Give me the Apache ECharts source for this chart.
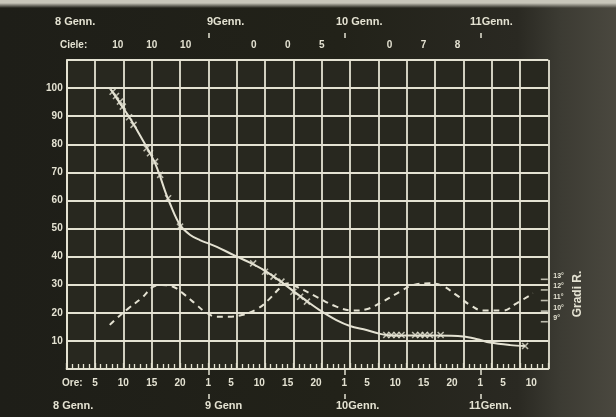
<!DOCTYPE html>
<html><head><meta charset="utf-8">
<script src="https://cdn.jsdelivr.net/npm/echarts@6/dist/echarts.min.js"></script>
<style>
html,body{margin:0;padding:0;background:#1f1f19;}
#wrap{position:relative;width:616px;height:417px;overflow:hidden;background:
 linear-gradient(to bottom, rgba(200,198,186,1) 0px, rgba(200,198,186,1) 3px, rgba(200,198,186,0) 8px),
 linear-gradient(to right, #1e1e18 0%, #222219 55%, #2a2922 84%, #3c3b33 91%, #4a483f 100%);}
#chart{position:absolute;left:0;top:0;width:616px;height:417px;}
</style></head><body><div id="wrap"><div id="chart"></div></div>
<script>
// ---- data (hours counted from 8 Genn. 0h) ----
const solidHours  = [7.8, 9.4, 11.2, 12.9, 14.4, 15.6, 16.5, 17.3, 18.2, 20.0, 21.8, 23.5, 26.5, 29.4, 32.6, 35.3, 38.2, 40.5, 42.5, 45.0, 47.6, 50.0, 52.9, 55.3, 57.0, 60.0, 65.0, 70.0, 72.5, 74.7, 78.3, 80.9];
const solidValues = [99.5, 94.6, 89.2, 83.3, 78.0, 73.2, 68.5, 63.7, 59.0, 51.3, 47.7, 45.9, 43.5, 40.6, 37.6, 34.6, 30.5, 27.0, 24.0, 20.5, 17.4, 15.3, 13.9, 12.5, 12.0, 11.9, 11.9, 11.6, 10.6, 9.4, 8.5, 8.2];
const markerHours  = [8.1, 8.7, 9.4, 9.9, 11.0, 11.8, 14.1, 14.7, 15.6, 16.5, 17.9, 20.0, 32.9, 35.0, 36.5, 37.9, 40.0, 41.2, 42.4, 56.4, 57.3, 58.2, 59.1, 61.5, 62.4, 63.2, 64.1, 66.0, 80.9];
const markerValues = [98.7, 97.2, 95.2, 93.4, 89.6, 86.9, 78.6, 76.8, 73.8, 69.1, 60.8, 50.7, 37.6, 34.6, 32.9, 31.1, 27.5, 25.7, 24.0, 12.1, 12.1, 12.1, 12.1, 12.1, 12.1, 12.1, 12.1, 12.1, 8.2];
const tempHours  = [7.6, 8.8, 10.9, 13.2, 15.3, 16.8, 18.8, 20.9, 22.6, 24.4, 26.5, 28.5, 30.9, 33.8, 35.7, 38.2, 39.2, 40.6, 44.1, 47.6, 50.5, 52.9, 55.8, 58.8, 61.1, 64.1, 66.4, 68.8, 71.2, 73.5, 77.0, 79.4, 82.3];
const tempValues = [8.70, 9.31, 10.26, 11.22, 12.30, 12.46, 12.30, 11.51, 10.74, 9.95, 9.47, 9.47, 9.63, 10.26, 11.11, 12.46, 12.62, 12.30, 11.35, 10.42, 10.05, 10.18, 10.90, 11.83, 12.46, 12.62, 12.36, 11.51, 10.58, 10.05, 10.05, 10.74, 11.67];
const cloudHours  = [9, 15, 21, 33, 39, 45, 57, 63, 69];
const cloudValues = [10, 10, 10, 0, 0, 5, 0, 7, 8];
const hourLabelHours = [5, 10, 15, 20, 25, 29, 34, 39, 44, 49, 53, 58, 63, 68, 73, 77, 82];
const dayMarkHours = [25, 49, 73];
const tempTicks = [9, 10, 11, 12, 13];
const dayLabelsTop = ['8 Genn.', '9Genn.', '10 Genn.', '11Genn.'];
const dayLabelsBottom = ['8 Genn.', '9 Genn', '10Genn.', '11Genn.'];

const X_MAX = 85;
const INK = '#e4e2d2';
const FONT = '"Liberation Sans", Arial, sans-serif';
const chart = echarts.init(document.getElementById('chart'), null, {renderer: 'canvas'});

const xBase = {type: 'value', min: 0, max: X_MAX, gridIndex: 0};
function txt(text, x, y, size) {
  return {type: 'text', x: x, y: y, silent: true,
    style: {text: text, fill: INK, font: 'bold ' + size + 'px ' + FONT, verticalAlign: 'middle'}};
}

chart.setOption({
  backgroundColor: 'transparent',
  animation: false,
  grid: {left: 66.7, right: 67.7, top: 60, bottom: 48, show: true, backgroundColor: '#28281f', borderWidth: 0, containLabel: false, outerBoundsMode: 'none'},
  xAxis: [
    Object.assign({}, xBase, {position: 'bottom', interval: 5,
      axisLine: {show: true, lineStyle: {color: INK, width: 2}},
      axisTick: {show: true, inside: true, length: 6, lineStyle: {color: INK, width: 1.3}},
      minorTick: {show: true, splitNumber: 5, length: 5, lineStyle: {color: INK, width: 1.3}},
      axisLabel: {show: false},
      splitLine: {show: true, showMinLine: true, showMaxLine: true, lineStyle: {color: INK, width: 1.8}}}),
    Object.assign({}, xBase, {position: 'bottom', offset: 0,
      axisLine: {show: false},
      axisTick: {show: true, customValues: dayMarkHours, length: 6, lineStyle: {color: INK, width: 1.5}},
      axisLabel: {show: true, customValues: hourLabelHours, formatter: v => String(Math.round(v) % 24),
        color: INK, fontFamily: FONT, fontWeight: 'bold', fontSize: 10, margin: 9},
      splitLine: {show: false}}),
    Object.assign({}, xBase, {position: 'top', offset: 0,
      axisLine: {show: false}, axisTick: {show: false}, splitLine: {show: false},
      axisLabel: {show: true, customValues: cloudHours, formatter: v => String(cloudValues[cloudHours.indexOf(Math.round(v))]),
        color: INK, fontFamily: FONT, fontWeight: 'bold', fontSize: 10, margin: 10}}),
    Object.assign({}, xBase, {position: 'top', offset: 22,
      axisLine: {show: false}, splitLine: {show: false}, axisLabel: {show: false},
      axisTick: {show: true, customValues: dayMarkHours, length: 5, lineStyle: {color: INK, width: 1.5}}}),
    Object.assign({}, xBase, {position: 'bottom', offset: 25,
      axisLine: {show: false}, splitLine: {show: false}, axisLabel: {show: false},
      axisTick: {show: true, customValues: dayMarkHours, length: 5, lineStyle: {color: INK, width: 1.5}}})
  ],
  yAxis: [
    {type: 'value', min: 0, max: 110, interval: 10, position: 'left',
      axisLine: {show: true, lineStyle: {color: INK, width: 2}},
      axisTick: {show: false},
      axisLabel: {color: INK, fontFamily: FONT, fontWeight: 'bold', fontSize: 10, margin: 4,
        formatter: v => (v === 0 || v === 110) ? '' : String(v)},
      splitLine: {show: true, lineStyle: {color: INK, width: 1.8}}},
    {type: 'value', min: 4.54, max: 33.69, position: 'right',
      axisLine: {show: false}, splitLine: {show: false}, axisTick: {show: false},
      axisLabel: {show: true, customValues: tempTicks, formatter: v => Math.round(v) + '°',
        color: INK, fontFamily: FONT, fontWeight: 'bold', fontSize: 7, margin: 5, verticalAlign: 'bottom'}}
  ],
  series: [
    {type: 'line', xAxisIndex: 0, yAxisIndex: 0, smooth: 0.35, showSymbol: false,
      data: solidHours.map((h, i) => [h, solidValues[i]]),
      lineStyle: {color: INK, width: 2}},
    {type: 'scatter', xAxisIndex: 0, yAxisIndex: 0,
      data: markerHours.map((h, i) => [h, markerValues[i]]),
      symbol: 'path://M0,0L10,10M10,0L0,10', symbolSize: 6,
      itemStyle: {color: 'rgba(0,0,0,0)', borderColor: INK, borderWidth: 1.6}},
    {type: 'line', xAxisIndex: 0, yAxisIndex: 1, smooth: 0.4, showSymbol: false,
      data: tempHours.map((h, i) => [h, tempValues[i]]),
      lineStyle: {color: INK, width: 2, type: [6, 5]}},
    // temperature scale ticks drawn inside the right border
    {type: 'scatter', xAxisIndex: 0, yAxisIndex: 1, clip: false, silent: true,
      data: tempTicks.map(t => [X_MAX, t]),
      symbol: 'rect', symbolSize: [7, 1.6], symbolOffset: [-4, 0],
      itemStyle: {color: INK}}
  ],
  graphic: [
    txt(dayLabelsTop[0], 55, 22, 11),
    txt(dayLabelsTop[1], 207, 22, 11),
    txt(dayLabelsTop[2], 336, 22, 11),
    txt(dayLabelsTop[3], 470, 22, 11),
    txt('Ciele:', 60, 45, 10),
    txt('Ore:', 62, 383, 10),
    txt(dayLabelsBottom[0], 53, 406, 11),
    txt(dayLabelsBottom[1], 205, 406, 11),
    txt(dayLabelsBottom[2], 336, 406, 11),
    txt(dayLabelsBottom[3], 469, 406, 11),
    {type: 'text', x: 578, y: 294, rotation: Math.PI / 2, silent: true,
      style: {text: 'Gradi R.', fill: INK, font: 'bold 12px ' + FONT, align: 'center', verticalAlign: 'middle'}}
  ]
});
</script>
</body></html>
